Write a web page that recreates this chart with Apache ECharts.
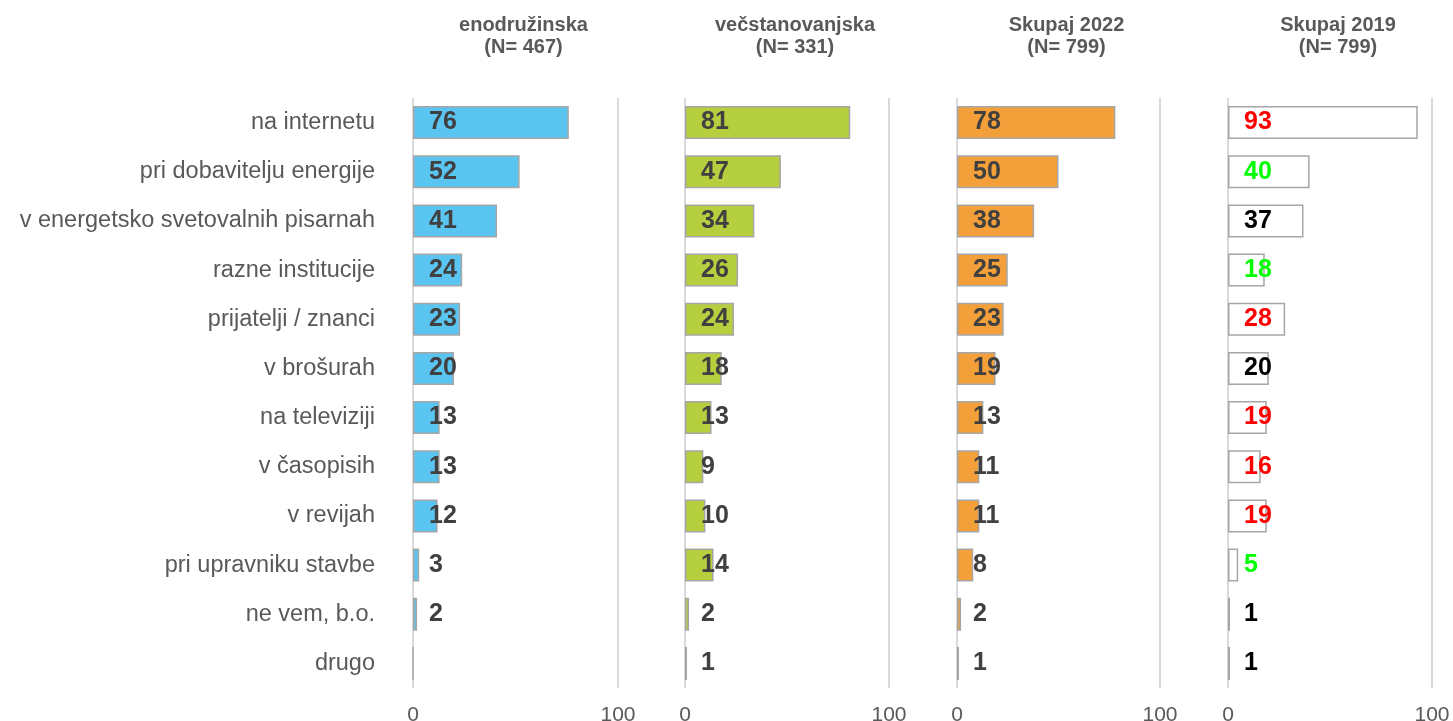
<!DOCTYPE html>
<html>
<head>
<meta charset="utf-8">
<script src="https://cdn.jsdelivr.net/npm/echarts@6/dist/echarts.min.js"></script>
<style>html,body{margin:0;padding:0;background:#fff;}#c{width:1453px;height:721px;}</style>
</head>
<body>
<div id="c"></div>
<script>
const categories = ['na internetu','pri dobavitelju energije','v energetsko svetovalnih pisarnah','razne institucije','prijatelji / znanci','v brošurah','na televiziji','v časopisih','v revijah','pri upravniku stavbe','ne vem, b.o.','drugo'];
const panelTitles = ['enodružinska\n(N= 467)','večstanovanjska\n(N= 331)','Skupaj 2022\n(N= 799)','Skupaj 2019\n(N= 799)'];
const enodruzinska = [76,52,41,24,23,20,13,13,12,3,2,0];
const vecstanovanjska = [81,47,34,26,24,18,13,9,10,14,2,1];
const skupaj2022 = [78,50,38,25,23,19,13,11,11,8,2,1];
const skupaj2019 = [93,40,37,18,28,20,19,16,19,5,1,1];
const change2019 = ['up','down','same','down','up','same','up','up','up','down','same','same'];
const xTicks = [0,100];

const changeColor = {up:'#ff0000', down:'#00ff00', same:'#000000'};
const fills = ['#5bc5f2','#b5cf3f','#f4a03a','#ffffff'];
const lefts = [413,685,957,1228];
const widths = [205,204,203,204];
const series = [enodruzinska,vecstanovanjska,skupaj2022,skupaj2019];
const FF = 'Liberation Sans, Arial, sans-serif';

const chart = echarts.init(document.getElementById('c'));
const grids=[],xAxes=[],yAxes=[],ser=[],titles=[];
for(let i=0;i<4;i++){
  grids.push({left:lefts[i],width:widths[i],top:98,height:590,containLabel:false,outerBoundsMode:'none'});
  xAxes.push({type:'value',gridIndex:i,min:xTicks[0],max:xTicks[1],interval:xTicks[1]-xTicks[0],
    axisLine:{show:false},axisTick:{show:false},
    splitLine:{show:true,lineStyle:{color:'#d9d9d9',width:2}},
    axisLabel:{color:'#595959',fontSize:21,fontFamily:FF,margin:17}});
  yAxes.push({type:'category',gridIndex:i,data:categories,inverse:true,
    axisLine:{show:false},axisTick:{show:false},
    axisLabel:{show:i===0,color:'#595959',fontSize:23.5,fontFamily:FF,margin:38}});
  const vals=series[i];
  ser.push({type:'bar',xAxisIndex:i,yAxisIndex:i,barWidth:33,
    itemStyle:{color:fills[i],borderColor:'#a6a6a6',borderWidth:1.5},
    data:vals.map((v,k)=>({value:v,label:{show:v>0,color:i===3?changeColor[change2019[k]]:'#404040'}})),
    label:{show:true,position:'insideLeft',distance:16,fontSize:25,fontWeight:'bold',fontFamily:FF},
    silent:true,animation:false});
  titles.push({text:panelTitles[i],left:lefts[i]+widths[i]/2+3,top:9,textAlign:'center',
    textStyle:{color:'#595959',fontSize:20,fontWeight:'bold',lineHeight:22,fontFamily:FF}});
}
chart.setOption({animation:false,title:titles,grid:grids,xAxis:xAxes,yAxis:yAxes,series:ser});
</script>
</body>
</html>
